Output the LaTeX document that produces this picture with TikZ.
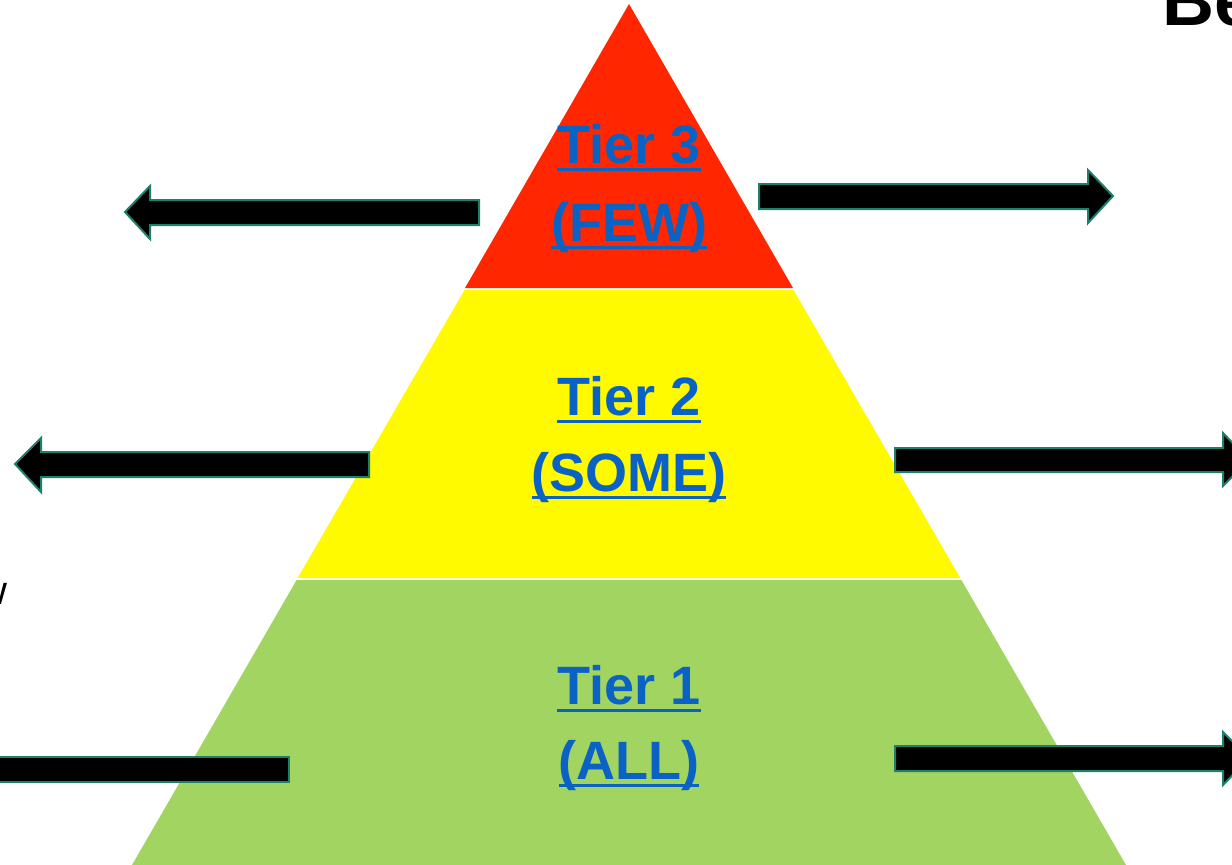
\documentclass[tikz,border=0pt]{standalone}
\usepackage{fontspec}
\setmainfont{Liberation Sans}
\definecolor{tierred}{HTML}{FF2600}
\definecolor{tieryellow}{HTML}{FFFA00}
\definecolor{tiergreen}{HTML}{A2D462}
\definecolor{tierblue}{HTML}{0A63C4}
\definecolor{arrowedge}{HTML}{1E7F6B}
\newcommand\tierul[1]{\setbox0\hbox{#1}\rlap{\raisebox{-8pt}{\textcolor{tierblue}{\rule{\wd0}{3pt}}}}\box0}
\tikzset{
  band/.style={draw=none},
  blockarrow/.style={fill=black, draw=arrowedge, line width=2pt, line join=miter},
  tierlabel/.style={anchor=base, inner sep=0pt, text=tierblue, font=\fontsize{54}{54}\selectfont\bfseries},
  sidetext/.style={anchor=base west, inner sep=0pt, text=black}
}
\begin{document}
\begin{tikzpicture}[x=1pt,y=-1pt]
\useasboundingbox (0,0) rectangle (1232,865);
\clip (0,0) rectangle (1232,865);
% pyramid bands
\fill[tierred,band] (629,4) -- (793,288) -- (465,288) -- cycle;
\fill[tieryellow,band] (464.5,290) -- (793.5,290) -- (960.3,578) -- (297.7,578) -- cycle;
\fill[tiergreen,band] (296.6,580) -- (961.4,580) -- (1126,865) -- (132,865) -- cycle;
% labels
\node[tierlabel] (t3) at (629,163) {\tierul{Tier 3}};
\node[tierlabel] (t3b) at (629,241) {\tierul{(FEW)}};
\node[tierlabel] (t2) at (629,415) {\tierul{Tier 2}};
\node[tierlabel] (t2b) at (629,491) {\tierul{(SOME)}};
\node[tierlabel] (t1) at (629,704) {\tierul{Tier 1}};
\node[tierlabel] (t1b) at (629,779) {\tierul{(ALL)}};
% arrows
\draw[blockarrow] (479,200) -- (150,200) -- (150,186) -- (125,212) -- (150,239) -- (150,225) -- (479,225) -- cycle;
\draw[blockarrow] (759,184) -- (1088,184) -- (1088,170) -- (1113,196) -- (1088,223) -- (1088,209) -- (759,209) -- cycle;
\draw[blockarrow] (369,452) -- (41,452) -- (41,438) -- (15,464) -- (41,492) -- (41,477) -- (369,477) -- cycle;
\draw[blockarrow] (895,448) -- (1223,448) -- (1223,433) -- (1249,460) -- (1223,486) -- (1223,472) -- (895,472) -- cycle;
\draw[blockarrow] (289,757) -- (-10,757) -- (-10,782) -- (289,782) -- cycle;
\draw[blockarrow] (895,746) -- (1223,746) -- (1223,732) -- (1249,758) -- (1223,785) -- (1223,771) -- (895,771) -- cycle;
% clipped side texts
\node[sidetext, font=\fontsize{72}{72}\selectfont\bfseries] (be) at (1162,25) {Be};
\node[sidetext, anchor=base east, font=\fontsize{40}{40}\selectfont] (w) at (8,604) {w};
\end{tikzpicture}
\end{document}
